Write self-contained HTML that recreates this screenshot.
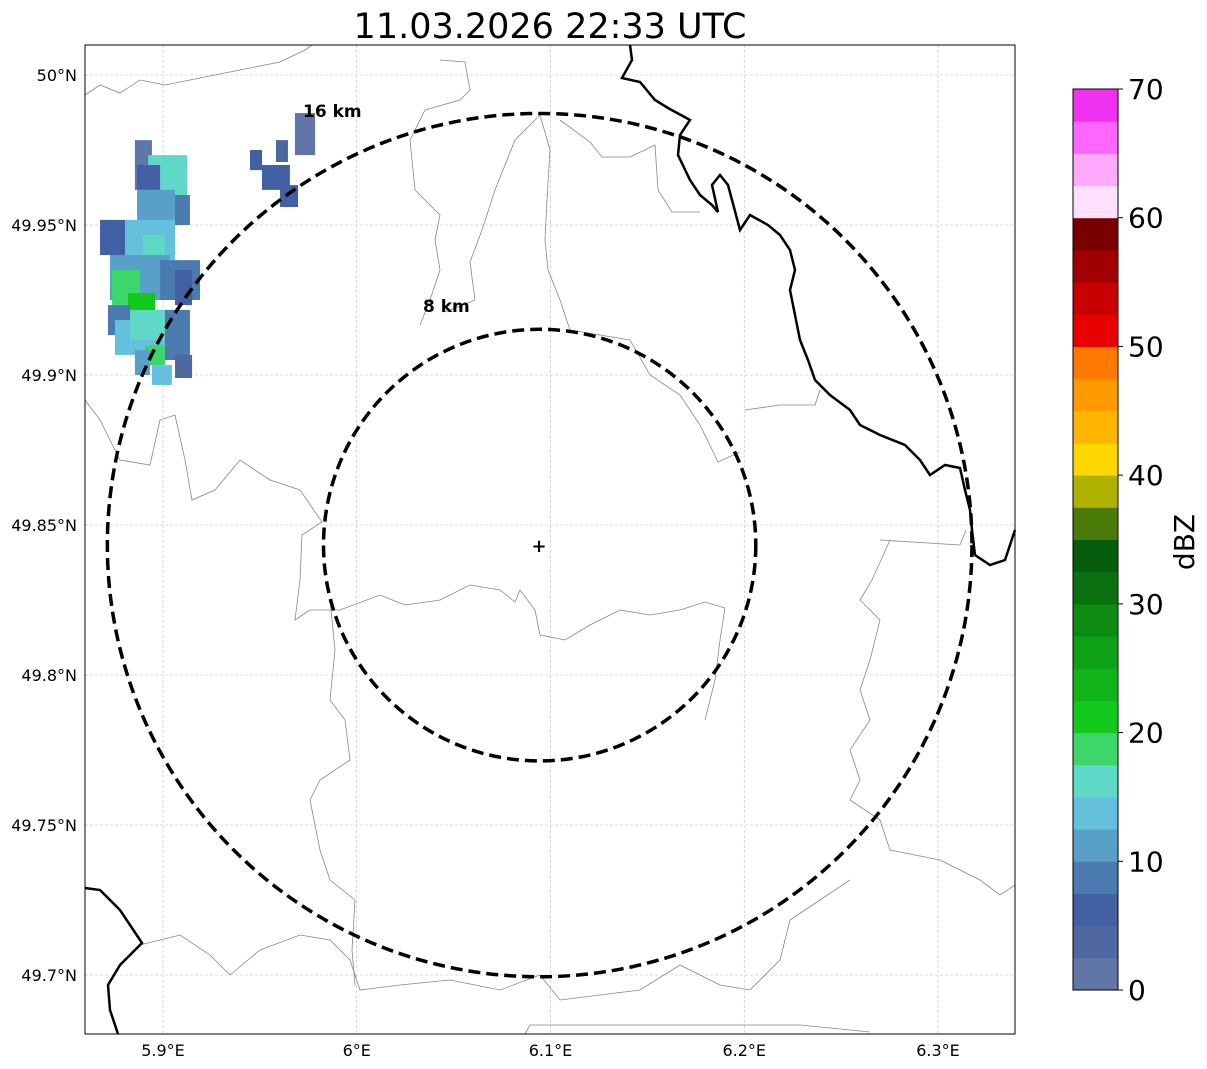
<!DOCTYPE html>
<html><head><meta charset="utf-8"><style>
body{margin:0;background:#fff;}
svg{display:block;font-family:"DejaVu Sans","Liberation Sans",sans-serif;}
</style></head><body>
<svg id="chart" width="1207" height="1069" viewBox="0 0 1207 1069">
<text x="550" y="38" text-anchor="middle" font-size="35">11.03.2026 22:33 UTC</text>
<g id="map">
<rect x="85" y="45" width="930" height="989" fill="#fff"/>
<g id="grid"></g>
<g id="echo"></g>
<g fill="none" stroke="#888" stroke-width="0.8">
<polyline points="85,95 100,85 120,93 140,80 165,85 200,78 240,70 280,62 305,50 312,45"/>
<polyline points="440,60 465,62 470,90 460,100 425,110 410,140 415,190 440,215 435,240 440,270 430,300 420,325"/>
<polyline points="540,115 515,140 495,190 482,230 470,262 475,300 445,312"/>
<polyline points="540,115 550,150 547,200 545,240 548,270 560,300 570,330 630,340 650,375 680,395 700,425 718,462 740,452"/>
<polyline points="560,120 590,142 602,157 630,157 655,145 658,190 672,212 700,212"/>
<polyline points="745,410 780,405 815,405 820,390"/>
<polyline points="85,400 100,420 120,460 150,465 160,420 175,415 185,460 192,500 215,490 240,460 270,480 300,490 322,522 302,535 300,580 295,620 310,610 340,610 380,595 405,605 440,600 470,585 500,590 515,602 520,590 535,610 540,635 565,640 590,625 620,610 650,615 680,610 705,602 725,608 720,640 715,680 705,720"/>
<polyline points="880,540 960,545 966,530"/>
<polyline points="890,540 872,580 860,600 880,620 870,660 860,690 870,720 850,750 860,780 850,800 880,820 890,850 940,860 980,880 1000,895 1015,885"/>
<polyline points="140,945 180,935 210,955 230,975 260,950 300,935 330,940 350,960 360,990 400,985 450,980 500,990 540,975 560,1000 600,995 640,990 680,965 720,985 750,990 780,960 790,920 820,900 850,880"/>
<polyline points="525,1034 530,1025 600,1025 700,1025 800,1025 870,1032"/>
<polyline points="330,600 335,650 330,700 345,720 350,760 320,780 310,800 320,850 330,880 355,900 352,950 355,985"/>
</g>
<g fill="none" stroke="#000" stroke-width="2.5">
<polyline points="630,45 632,60 622,78 640,82 655,100 668,108 690,120 680,135 678,155 690,180 700,195 712,205 718,212 712,185 720,175 728,185 732,200 740,230 750,215 768,225 780,235 790,250 795,270 790,290 795,315 800,340 808,360 815,380 830,395 850,410 860,425 880,435 905,445 920,460 930,475 945,465 960,468 965,490 970,510 972,530 975,555 990,565 1005,560 1015,530"/>
<polyline points="85,888 100,890 120,910 142,943 120,965 108,985 110,1010 118,1034"/>
</g>
<g id="rings"></g>
<text x="303" y="117" font-size="17" font-weight="bold">16 km</text>
<text x="423" y="312" font-size="17" font-weight="bold">8 km</text>
<text x="539" y="552" font-size="18" font-weight="bold" text-anchor="middle">+</text>
<rect x="85" y="45" width="930" height="989" fill="none" stroke="#000" stroke-width="1"/>
</g>
<g id="axes"></g>
<g id="cbar"></g>
<text transform="translate(1194,542) rotate(-90)" text-anchor="middle" font-size="28">dBZ</text>
</svg>
<script>
const lonTicks=[5.9,6.0,6.1,6.2,6.3];
const lonLabels=["5.9°E","6°E","6.1°E","6.2°E","6.3°E"];
const latTicks=[50.0,49.95,49.9,49.85,49.8,49.75,49.7];
const latLabels=["50°N","49.95°N","49.9°N","49.85°N","49.8°N","49.75°N","49.7°N"];
const ringKm=[8,16];
const siteLon=6.0944, siteLat=49.8433;
const cbLevels=[0,2.5,5,7.5,10,12.5,15,17.5,20,22.5,25,27.5,30,32.5,35,37.5,40,42.5,45,47.5,50,52.5,55,57.5,60,62.5,65,67.5,70];
const cbColors=["#6075a8","#5068a0","#4460a5","#4a7ab0","#58a0c8","#64c0dc","#60d8c8","#3cd66a","#12c81a","#10b418","#0ea016","#0c8a12","#0a7010","#055c0a","#4a7a08","#b0b000","#ffd700","#ffb400","#ff9a00","#ff7800","#e60000","#c80000","#a00000","#780000","#ffe0ff","#ffaaff","#ff66ff","#f032f0"];
const cbTicks=[0,10,20,30,40,50,60,70];
// cells: [lonW, latN, lonE, latS, dBZ]
const cells=[
[5.8855,49.9783,5.8943,49.9617,2],
[5.8923,49.9733,5.9124,49.9567,16],
[5.8866,49.9700,5.8985,49.9617,6],
[5.8866,49.9617,5.9062,49.9450,11],
[5.9062,49.9600,5.9139,49.9500,8],
[5.8675,49.9517,5.8830,49.9400,6],
[5.8804,49.9517,5.9062,49.9383,14],
[5.8897,49.9467,5.9010,49.9400,16],
[5.8726,49.9400,5.9036,49.9250,12],
[5.8985,49.9383,5.9191,49.9250,8],
[5.9062,49.9350,5.9150,49.9233,6],
[5.8737,49.9350,5.8881,49.9233,18],
[5.8819,49.9273,5.8959,49.9183,22],
[5.8716,49.9233,5.8830,49.9133,8],
[5.8752,49.9183,5.9010,49.9067,14],
[5.8830,49.9217,5.9062,49.9117,16],
[5.9010,49.9217,5.9139,49.9050,8],
[5.8907,49.9100,5.9010,49.9033,18],
[5.8855,49.9083,5.8933,49.9000,11],
[5.8943,49.9033,5.9046,49.8967,14],
[5.9062,49.9067,5.9150,49.8990,3],
[5.9449,49.9750,5.9511,49.9683,6],
[5.9511,49.9700,5.9655,49.9617,6],
[5.9604,49.9633,5.9697,49.9560,6],
[5.9583,49.9783,5.9645,49.9710,3],
[5.9681,49.9873,5.9785,49.9733,2]
];
const NS="http://www.w3.org/2000/svg";
function X(lon){return 163+(lon-5.9)*1937.5;}
function Y(lat){return 75+(50-lat)*3000;}
function mk(tag,attrs,parent){const e=document.createElementNS(NS,tag);for(const k in attrs)e.setAttribute(k,attrs[k]);parent.appendChild(e);return e;}
function colorFor(v){for(let i=0;i<cbColors.length;i++){if(v<cbLevels[i+1])return cbColors[i];}return cbColors[cbColors.length-1];}
const grid=document.getElementById('grid'),axes=document.getElementById('axes');
lonTicks.forEach((t,i)=>{
 const l=mk('line',{x1:X(t),x2:X(t),y1:45,y2:1034,stroke:'#bbb','stroke-width':0.6,'stroke-dasharray':'3,2'},grid);
 
 
 const tx=mk('text',{x:X(t),y:1056,'text-anchor':'middle','font-size':16},axes);tx.textContent=lonLabels[i];
 
 
});
latTicks.forEach((t,i)=>{
 const l=mk('line',{x1:85,x2:1015,y1:Y(t),y2:Y(t),stroke:'#bbb','stroke-width':0.6,'stroke-dasharray':'3,2'},grid);
 
 
 const tx=mk('text',{x:77,y:Y(t)+6,'text-anchor':'end','font-size':16},axes);tx.textContent=latLabels[i];
 
 
});
const echo=document.getElementById('echo');
cells.forEach(c=>{
 const r=mk('rect',{x:X(c[0]),y:Y(c[1]),width:X(c[2])-X(c[0]),height:Y(c[3])-Y(c[1]),fill:colorFor(c[4])},echo);
 
 
});
const rings=document.getElementById('rings');
ringKm.forEach(km=>{
 const dLat=km/111.2, dLon=km/(111.2*Math.cos(siteLat*Math.PI/180));
 const e=mk('ellipse',{cx:X(siteLon),cy:Y(siteLat),rx:X(siteLon+dLon)-X(siteLon),ry:Y(siteLat)-Y(siteLat+dLat),fill:'none',stroke:'#000','stroke-width':3.5,'stroke-dasharray':'12,6'},rings);
 
 
});
const cb=document.getElementById('cbar');
const cbTop=89,cbBot=990,cbX=1073,cbW=45;
function CY(v){return cbBot-(v/70)*(cbBot-cbTop);}
cbColors.forEach((col,i)=>{
 const r=mk('rect',{x:cbX,y:CY(cbLevels[i+1]),width:cbW,height:CY(cbLevels[i])-CY(cbLevels[i+1])+0.5,fill:col},cb);
 
 
});
const fr=mk('rect',{x:cbX,y:cbTop,width:cbW,height:cbBot-cbTop,fill:'none',stroke:'#000','stroke-width':1},cb);


cbTicks.forEach(t=>{
 const l=mk('line',{x1:cbX+cbW,x2:cbX+cbW+5,y1:CY(t),y2:CY(t),stroke:'#000'},cb);
 
 
 const tx=mk('text',{x:1128,y:CY(t)+10,'font-size':28},cb);tx.textContent=t;
 
 
});
</script>
</body></html>
